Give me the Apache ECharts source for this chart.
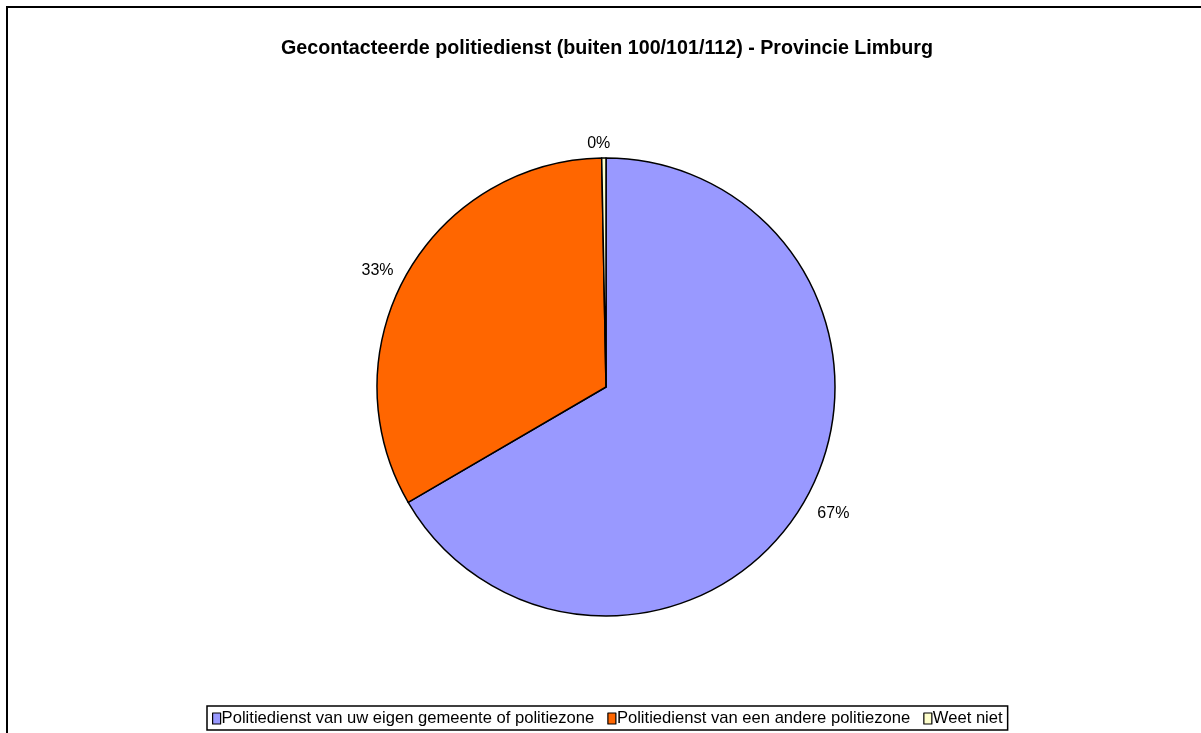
<!DOCTYPE html>
<html>
<head>
<meta charset="utf-8">
<script src="https://cdn.jsdelivr.net/npm/echarts@6/dist/echarts.min.js"></script>
<style>
  html, body { margin: 0; padding: 0; background: #fff; }
  #chart { width: 1201px; height: 733px; }
</style>
</head>
<body>
<div id="chart"></div>
<script>
const categories = [
  'Politiedienst van uw eigen gemeente of politiezone',
  'Politiedienst van een andere politiezone',
  'Weet niet'
]
const values = [66.6, 33.1, 0.3]
const colors = ['#9999ff', '#ff6600', '#ffffcc']

const cx = 606
const cy = 387

const myChart = echarts.init(document.getElementById('chart'))
const option = {
  animation: false,
  textStyle: { fontFamily: 'Liberation Sans, Arial, sans-serif' },
  title: {
    text: 'Gecontacteerde politiedienst (buiten 100/101/112) - Provincie Limburg',
    left: 276,
    top: 34,
    textStyle: {
      fontSize: 19.7,
      fontWeight: 'bold',
      color: '#000',
      fontFamily: 'Liberation Sans, Arial, sans-serif'
    }
  },
  legend: {
    left: 207,
    top: 706,
    orient: 'horizontal',
    padding: [4, 5, 3, 5],
    itemGap: 13,
    itemWidth: 8,
    itemHeight: 11,
    borderColor: '#000',
    borderWidth: 1.5,
    icon: 'rect',
    selectedMode: false,
    itemStyle: { borderColor: '#000', borderWidth: 1.2 },
    textStyle: {
      fontSize: 16.6,
      color: '#000',
      padding: [0, 0, 0, -4],
      fontFamily: 'Liberation Sans, Arial, sans-serif'
    },
    data: categories
  },
  series: [
    {
      type: 'pie',
      center: [cx, cy],
      radius: 229,
      startAngle: 90,
      clockwise: true,
      silent: true,
      data: categories.map((name, i) => ({
        name: name,
        value: values[i],
        itemStyle: { color: colors[i] }
      })),
      itemStyle: { borderColor: '#000', borderWidth: 1.5 },
      label: {
        show: true,
        position: 'outside',
        formatter: function (params) {
          return Math.round(params.percent) + '%'
        },
        fontSize: 16,
        color: '#000',
        fontFamily: 'Liberation Sans, Arial, sans-serif'
      },
      labelLine: { show: false, length: 9, length2: 0 },
      // labels onder het midden iets lager, label bovenaan gecentreerd
      labelLayout: function (params) {
        const r = params.labelRect
        const res = {}
        if (r.y + r.height / 2 > cy) res.dy = r.height / 2
        if (Math.abs(r.x + r.width / 2 - cx) < r.width) {
          res.align = 'center'
          res.dy = -5
        }
        return res
      },
      emphasis: { disabled: true }
    }
  ],
  graphic: [
    {
      type: 'rect',
      shape: { x: 7, y: 7, width: 1400, height: 900 },
      style: { fill: 'none', stroke: '#000', lineWidth: 2 },
      z: 100
    }
  ]
}
myChart.setOption(option)
</script>
</body>
</html>
